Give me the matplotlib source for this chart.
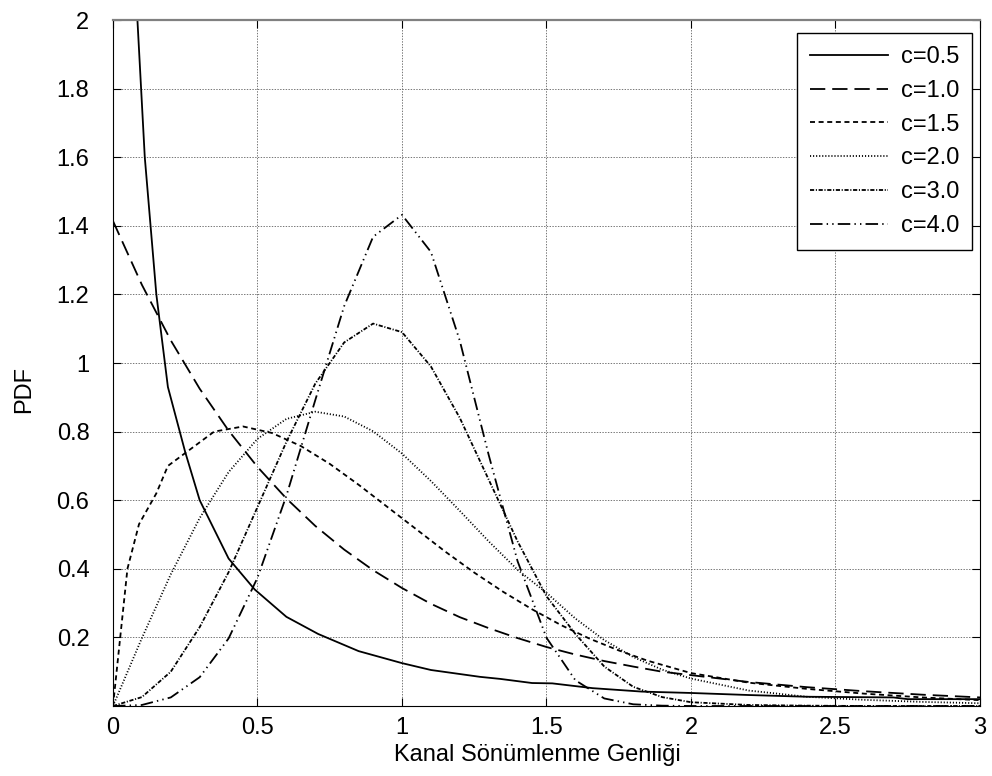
import numpy as np
import matplotlib
matplotlib.use("Agg")
import matplotlib.pyplot as plt
from matplotlib.ticker import FormatStrFormatter

plt.rcParams['font.family'] = ['Liberation Sans', 'DejaVu Sans']
plt.rcParams['lines.scale_dashes'] = False

# PDF estimates of the fading amplitude for each shape parameter c
x05 = [0.075, 0.11, 0.15, 0.19, 0.25, 0.30, 0.40, 0.49, 0.60, 0.71, 0.85, 1.00, 1.10,
       1.27, 1.34, 1.45, 1.52, 1.66, 1.83, 2.00, 2.20, 2.40, 2.70, 2.75, 3.00]
y05 = [2.15, 1.60, 1.20, 0.93, 0.74, 0.60, 0.43, 0.34, 0.26, 0.21, 0.16, 0.125, 0.105,
       0.085, 0.079, 0.067, 0.066, 0.052, 0.042, 0.038, 0.032, 0.027, 0.025, 0.02, 0.02]

x10 = [0, 0.1, 0.2, 0.3, 0.4, 0.5, 0.6, 0.7, 0.8, 0.9, 1.0, 1.1, 1.2, 1.3, 1.4, 1.5,
       1.6, 1.7, 1.8, 1.9, 2.0, 2.2, 2.4, 2.6, 2.8, 3.0]
y10 = [1.414, 1.228, 1.066, 0.925, 0.803, 0.697, 0.605, 0.525, 0.456, 0.396, 0.344,
       0.298, 0.259, 0.227, 0.198, 0.172, 0.150, 0.131, 0.115, 0.100, 0.090, 0.070,
       0.055, 0.043, 0.033, 0.025]

x15 = [0, 0.05, 0.09, 0.15, 0.19, 0.27, 0.35, 0.45, 0.55, 0.65, 0.75, 0.85, 0.95, 1.05,
       1.15, 1.25, 1.35, 1.45, 1.55, 1.65, 1.75, 1.85, 2.0, 2.2, 2.4, 2.6, 2.8, 3.0]
y15 = [0, 0.40, 0.53, 0.62, 0.70, 0.75, 0.80, 0.815, 0.796, 0.758, 0.706, 0.645, 0.580,
       0.515, 0.450, 0.389, 0.333, 0.282, 0.236, 0.196, 0.162, 0.132, 0.096, 0.068,
       0.050, 0.036, 0.025, 0.017]

x20 = [0, 0.1, 0.2, 0.3, 0.4, 0.5, 0.6, 0.7, 0.8, 0.9, 1.0, 1.1, 1.2, 1.3, 1.4, 1.5,
       1.6, 1.7, 1.8, 1.9, 2.0, 2.2, 2.4, 2.6, 2.8, 3.0]
y20 = [0, 0.198, 0.384, 0.548, 0.682, 0.779, 0.837, 0.858, 0.844, 0.801, 0.736, 0.656,
       0.569, 0.480, 0.397, 0.330, 0.255, 0.192, 0.143, 0.106, 0.080, 0.045, 0.027,
       0.018, 0.012, 0.008]

x30 = [0, 0.1, 0.2, 0.3, 0.4, 0.5, 0.6, 0.7, 0.8, 0.9, 1.0, 1.1, 1.2, 1.3, 1.4, 1.5,
       1.6, 1.7, 1.8, 1.9, 2.0, 2.2, 2.4, 2.6, 2.8, 3.0]
y30 = [0, 0.026, 0.10, 0.23, 0.39, 0.58, 0.77, 0.94, 1.06, 1.115, 1.09, 0.99, 0.84,
       0.66, 0.48, 0.32, 0.21, 0.115, 0.056, 0.026, 0.011, 0.003, 0.001, 0, 0, 0]

x40 = [0, 0.1, 0.2, 0.3, 0.4, 0.5, 0.6, 0.7, 0.8, 0.9, 1.0, 1.1, 1.2, 1.3, 1.4, 1.5,
       1.6, 1.7, 1.8, 1.9, 2.0, 2.5, 3.0]
y40 = [0, 0.003, 0.025, 0.084, 0.197, 0.374, 0.613, 0.892, 1.166, 1.368, 1.432, 1.324,
       1.065, 0.732, 0.422, 0.199, 0.075, 0.022, 0.005, 0.001, 0, 0, 0]

labels = ['c=0.5', 'c=1.0', 'c=1.5', 'c=2.0', 'c=3.0', 'c=4.0']
xs = [x05, x10, x15, x20, x30, x40]
ys = [y05, y10, y15, y20, y30, y40]
styles = ['-', (0, (11, 5)), (0, (3.6, 2.6)), (0, (0.8, 1.4)),
          (0, (3, 1.2, 0.8, 1.2)), (0, (9, 3, 1, 3, 1, 3))]

fs = 17

fig = plt.figure(figsize=(9.92, 7.76), dpi=100)
ax = fig.add_axes([0.1139, 0.0902, 0.874, 0.884])

for xv, yv, ls, lab in zip(xs, ys, styles, labels):
    ax.plot(xv, yv, color='black', linestyle=ls, linewidth=1.3, label=lab)

ax.set_xlim(0, 3)
ax.set_ylim(0, 2)
ax.set_xticks(np.arange(0, 3.01, 0.5))
ax.set_yticks(np.arange(0.2, 2.01, 0.2))
ax.xaxis.set_major_formatter(FormatStrFormatter('%g'))
ax.yaxis.set_major_formatter(FormatStrFormatter('%g'))
ax.tick_params(direction='in', length=6, width=0.8, top=True, right=True, labelsize=fs)
ax.tick_params(axis='y', pad=17)
ax.tick_params(axis='x', pad=8)
ax.grid(True, color='#606060', linestyle=(0, (1, 1)), linewidth=0.6)
ax.spines['top'].set_color('#808080')
ax.spines['top'].set_linewidth(1.6)

ax.set_xlabel('Kanal Sönümlenme Genliği', fontsize=fs)
ax.set_ylabel('PDF', fontsize=fs)
ax.xaxis.set_label_coords(0.49, -0.055)
ax.yaxis.set_label_coords(-0.09, 0.462)

leg = ax.legend(loc='upper right', bbox_to_anchor=(0.991, 0.981), borderaxespad=0,
                fontsize=fs, fancybox=False, edgecolor='black', framealpha=1,
                handlelength=3.3, labelspacing=0.5, handletextpad=0.55, borderpad=0.55)
leg.get_frame().set_linewidth(1.0)

fig.savefig('out.png', dpi=100)
